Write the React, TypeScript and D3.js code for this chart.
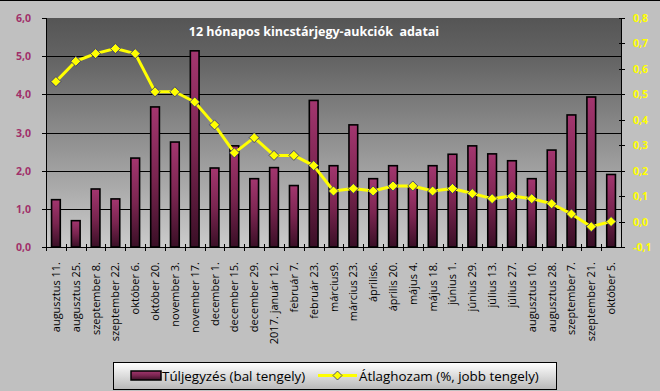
import React from 'react';
import * as d3 from 'd3';

const categories = [
  'augusztus 11.', 'augusztus 25.', 'szeptember 8.', 'szeptember 22.', 'október 6.',
  'október 20.', 'november 3.', 'november 17.', 'december 1.', 'december 15.',
  'december 29.', '2017. január 12.', 'február 7.', 'február 23.', 'március9.',
  'március 23.', 'április6.', 'április 20.', 'május 4.', 'május 18.',
  'június 1.', 'június 29.', 'július 13.', 'július 27.', 'augusztus 10.',
  'augusztus 28.', 'szeptember 7.', 'szeptember 21.', 'október 5.',
];

// Túljegyzés (bal tengely)
const oversub = [
  1.24, 0.69, 1.52, 1.26, 2.33, 3.67, 2.75, 5.14, 2.07, 2.65,
  1.79, 2.08, 1.61, 3.84, 2.13, 3.2, 1.79, 2.13, 1.58, 2.13,
  2.43, 2.65, 2.44, 2.26, 1.79, 2.54, 3.46, 3.93, 1.9,
];

// Átlaghozam (%, jobb tengely)
const avgYield = [
  0.55, 0.63, 0.66, 0.68, 0.66, 0.51, 0.51, 0.47, 0.38, 0.27,
  0.33, 0.26, 0.26, 0.22, 0.12, 0.13, 0.12, 0.14, 0.14, 0.12,
  0.13, 0.11, 0.09, 0.1, 0.09, 0.07, 0.03, -0.02, 0.0,
];

const leftTicks = [0, 1, 2, 3, 4, 5, 6];
const rightTicks = [-0.1, 0, 0.1, 0.2, 0.3, 0.4, 0.5, 0.6, 0.7, 0.8];

const W = 660;
const H = 391;
const left = 46;
const right = 621;
const top = 18;
const bottom = 247;

const fmt = (v: number) => v.toFixed(1).replace('.', ',');
const font = "'Open Sans', 'DejaVu Sans', sans-serif";

function Diamond({ cx, cy, r }: { cx: number; cy: number; r: number }) {
  return (
    <path
      d={`M${cx},${cy - r}L${cx + r},${cy}L${cx},${cy + r}L${cx - r},${cy}Z`}
      fill="#ffff00"
      stroke="#2b2b7a"
      strokeWidth={0.8}
    />
  );
}

export default function App() {
  const x = d3.scaleBand<string>()
    .domain(categories)
    .range([left, right])
    .paddingInner(0.56)
    .paddingOuter(0.28);
  const step = x.step();
  const yL = d3.scaleLinear().domain([0, 6]).range([bottom, top]);
  const yR = d3.scaleLinear().domain([-0.1, 0.8]).range([bottom, top]);

  const line = d3.line<number>()
    .x((_, i) => (x(categories[i]) as number) + x.bandwidth() / 2)
    .y((d) => yR(d));

  return (
    <svg width={W} height={H} style={{ position: 'absolute', left: 0, top: 0 }}>
      <defs>
        <linearGradient id="plotBg" x1="0" y1="0" x2="0" y2="1">
          <stop offset="0" stopColor="#555555" />
          <stop offset="0.2" stopColor="#666666" />
          <stop offset="1" stopColor="#cbcbcb" />
        </linearGradient>
        <linearGradient id="barFill" x1="0" y1="0" x2="0" y2="1">
          <stop offset="0" stopColor="#a3366f" />
          <stop offset="0.5" stopColor="#7a2550" />
          <stop offset="1" stopColor="#3a0f26" />
        </linearGradient>
        <linearGradient id="legBg" x1="0" y1="0" x2="0" y2="1">
          <stop offset="0" stopColor="#ffffff" />
          <stop offset="1" stopColor="#b8b8b8" />
        </linearGradient>
      </defs>
      <rect x={0} y={0} width={W} height={H} fill="#c0c0c0" />
      <line x1={0} x2={W} y1={0.5} y2={0.5} stroke="#000" />

      <rect x={left} y={top} width={right - left} height={bottom - top} fill="url(#plotBg)" />
      {leftTicks.slice(1, -1).map((t) => (
        <line key={t} x1={left} x2={right} y1={Math.round(yL(t)) + 0.5} y2={Math.round(yL(t)) + 0.5} stroke="#000" />
      ))}

      <text x={314} y={36} textAnchor="middle" fill="#fff" fontFamily={font} fontWeight="bold" fontSize={12.5} style={{ whiteSpace: 'pre' }}>
        12 hónapos kincstárjegy-aukciók  adatai
      </text>

      {oversub.map((v, i) => (
        <rect
          key={i}
          x={x(categories[i])}
          y={yL(v)}
          width={x.bandwidth()}
          height={bottom - yL(v)}
          fill="url(#barFill)"
          stroke="#000"
          strokeWidth={1.6}
        />
      ))}

      <path d={line(avgYield) || ''} fill="none" stroke="#ffff00" strokeWidth={3} strokeLinejoin="round" />
      {avgYield.map((v, i) => (
        <Diamond key={i} cx={(x(categories[i]) as number) + x.bandwidth() / 2} cy={yR(v)} r={5} />
      ))}

      {/* left axis */}
      <line x1={left + 0.5} x2={left + 0.5} y1={top} y2={bottom} stroke="#000" />
      {leftTicks.map((t) => (
        <g key={t}>
          <line x1={left - 4} x2={left} y1={Math.round(yL(t)) + 0.5} y2={Math.round(yL(t)) + 0.5} stroke="#000" />
          <text x={31} y={yL(t) + 4} textAnchor="end" fill="#a0306a" fontFamily={font} fontWeight="bold" fontSize={10.5}>
            {fmt(t)}
          </text>
        </g>
      ))}

      {/* right axis */}
      <line x1={right + 0.5} x2={right + 0.5} y1={top} y2={bottom} stroke="#000" />
      {rightTicks.map((t) => (
        <g key={t}>
          <line x1={right - 2} x2={right + 4} y1={Math.round(yR(t)) + 0.5} y2={Math.round(yR(t)) + 0.5} stroke="#000" />
          <text x={633} y={yR(t) + 4} textAnchor="start" fill="#ffff00" fontFamily={font} fontWeight="bold" fontSize={10.5}>
            {fmt(t)}
          </text>
        </g>
      ))}

      {/* x axis */}
      <line x1={left} x2={right} y1={bottom + 0.5} y2={bottom + 0.5} stroke="#000" />
      {categories.map((c, i) => {
        const bx = left + step * (i + 1);
        const cx = (x(c) as number) + x.bandwidth() / 2;
        return (
          <g key={c}>
            {i < categories.length - 1 && (
              <line x1={Math.round(bx) + 0.5} x2={Math.round(bx) + 0.5} y1={bottom - 3} y2={bottom + 4} stroke="#000" />
            )}
            <text
              transform={`translate(${cx + 4},${262}) rotate(-90)`}
              textAnchor="end"
              fill="#000"
              fontFamily={font}
              fontSize={11}
            >
              {c}
            </text>
          </g>
        );
      })}
      <line x1={left + 0.5} x2={left + 0.5} y1={bottom} y2={bottom + 4} stroke="#000" />

      {/* legend */}
      <rect x={113.5} y={362.5} width={443} height={27} fill="url(#legBg)" stroke="#000" />
      <rect x={131} y={371} width={30} height={9} fill="url(#barFill)" stroke="#000" strokeWidth={1.5} />
      <text x={162} y={381} fill="#000" fontFamily={font} fontSize={13.4}>Túljegyzés (bal tengely)</text>
      <line x1={318} x2={357} y1={375.5} y2={375.5} stroke="#ffff00" strokeWidth={3} />
      <Diamond cx={337.5} cy={375.5} r={4.5} />
      <text x={359} y={381} fill="#000" fontFamily={font} fontSize={13.4}>Átlaghozam (%, jobb tengely)</text>
    </svg>
  );
}
